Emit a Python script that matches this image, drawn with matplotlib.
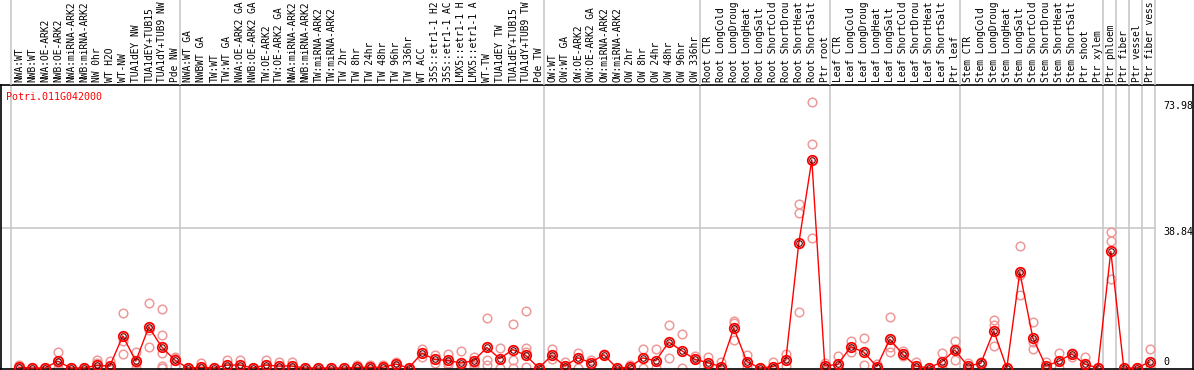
import matplotlib
matplotlib.use("Agg")
import matplotlib.pyplot as plt
import numpy as np

gene_id = "Potri.011G042000"

labels = [
    "NWA:WT", "NWB:WT", "NWA:OE-ARK2", "NWB:OE-ARK2", "NWA:miRNA-ARK2", "NWB:miRNA-ARK2",
    "NW 0hr", "WT H2O", "WT-NW", "TUA1dEY NW", "TUA1dEY+TUB15", "TUA1dY+TUB9 NW", "Pde NW",
    "NWA:WT GA", "NWBWT GA", "TW:WT", "TW:WT GA", "NWA:OE-ARK2 GA", "NWB:OE-ARK2 GA",
    "TW:OE-ARK2", "TW:OE-ARK2 GA", "NWA:miRNA-ARK2", "NWB:miRNA-ARK2", "TW:miRNA-ARK2",
    "TW:miRNA-ARK2", "TW 2hr", "TW 8hr", "TW 24hr", "TW 48hr", "TW 96hr", "TW 336hr",
    "WT ACC", "35S::etr1-1 H2", "35S::etr1-1 AC", "LMX5::etr1-1 H", "LMX5::etr1-1 A",
    "WT-TW", "TUA1dEY TW", "TUA1dEY+TUB15", "TUA1dY+TUB9 TW", "Pde TW",
    "OW:WT", "OW:WT GA", "OW:OE-ARK2", "OW:OE-ARK2 GA", "OW:miRNA-ARK2", "OW:miRNA-ARK2",
    "OW 2hr", "OW 8hr", "OW 24hr", "OW 48hr", "OW 96hr", "OW 336hr",
    "Root CTR", "Root LongCold", "Root LongDroug", "Root LongHeat", "Root LongSalt",
    "Root ShortCold", "Root ShortDrou", "Root ShortHeat", "Root ShortSalt", "Ptr root",
    "Leaf CTR", "Leaf LongCold", "Leaf LongDroug", "Leaf LongHeat", "Leaf LongSalt",
    "Leaf ShortCold", "Leaf ShortDrou", "Leaf ShortHeat", "Leaf ShortSalt", "Ptr leaf",
    "Stem CTR", "Stem LongCold", "Stem LongDroug", "Stem LongHeat", "Stem LongSalt",
    "Stem ShortCold", "Stem ShortDrou", "Stem ShortHeat", "Stem ShortSalt", "Ptr shoot",
    "Ptr xylem", "Ptr phloem", "Ptr fiber", "Ptr vessel", "Ptr fiber vess",
]

# group boundaries: index of first sample of each new group
group_starts = [0, 13, 41, 53, 63, 73, 84, 85, 86, 87, 88]

means = [
    0.2, 0, 0, 1.9, 0, 0, 0.7, 0.55, 8.9, 1.9, 11.4, 5.8, 2.2,
    0, 0.2, 0, 0.8, 0.8, 0, 0.8, 0.55, 0.55, 0, 0, 0, 0, 0.2, 0.2, 0.2, 1.1,
    0, 4.1, 2.4, 2.1, 1.4, 2.0, 5.7, 2.6, 5.1, 3.5, 0,
    3.5, 0.55, 2.8, 1.5, 3.7, 0, 0.2, 2.8, 2.0, 7.2, 4.8, 2.4,
    1.5, 0.4, 11.1, 1.8, 0, 0.4, 2.2, 34.7, 57.8, 0.55,
    1.0, 5.9, 4.4, 0.4, 8.0, 3.8, 0.55, 0, 1.7, 5.0,
    0.55, 1.3, 10.3, 0, 26.6, 8.4, 0.55, 1.9, 3.9, 1.1, 0,
    32.4, 0, 0, 1.7,
]

replicates = [
    [0.8, 0, 0], [0, 0], [0, 0], [4.4, 1.3, 0], [0, 0], [0, 0], [2.1, 1.5, 0],
    [1.9, 0, 0], [15.2, 7.5, 3.9], [4.4, 1.3, 0], [18.1, 10.6, 5.8],
    [16.4, 9.2, 4.1, 0.6, 0], [3.1, 2.9, 0.5],
    [0], [1.3, 0], [0], [2.2, 0], [2.2, 0], [0], [2.1, 0], [1.8, 0], [1.7, 0],
    [0], [0], [0], [0], [0.7, 0], [0.9, 0], [0.7, 0], [1.8, 0.6],
    [0], [5.3, 3.0], [3.7, 1.3], [3.9, 1.3, 0.8], [4.6, 0], [3.1, 1.3, 0.6],
    [13.8, 2.2, 0.8], [5.5, 0], [12.1, 2.2, 0], [15.7, 5.5, 4.5, 0.4], [0],
    [5.2, 2.4], [1.8, 0], [4.1, 0], [2.2, 0.9], [3.9], [0], [0.8, 0], [5.2, 0],
    [5.2, 0], [12.0, 2.7], [9.4, 0], [3.3, 2.4],
    [3.1, 0.2], [1.8, 0], [13.0, 12.6, 7.8], [3.5, 0.2], [0], [1.8, 0], [3.9, 0.6],
    [45.5, 43.0, 15.6], [73.98, 62.1, 36.0], [1.5, 0],
    [3.3, 0], [7.5, 4.4], [8.3, 0.8], [1.1, 0], [14.2, 5.7, 4.5], [4.7, 3.2],
    [1.8, 0], [0], [4.1, 0], [7.5, 5.4, 2.2],
    [1.3, 0], [1.8, 0.9], [13.3, 11.9, 6.1], [0], [33.9, 25.8, 20.3],
    [12.7, 7.3, 5.4], [1.8, 0], [4.2, 0], [4.1, 3.0], [3.1, 0], [0],
    [37.7, 35.2, 24.7], [0], [0], [5.3, 0],
]

ytick_values = [0, 38.84, 73.98]
grid_values = [38.84]

# ---------------------------------------------------------------- layout
W, H = 1194, 370
fig = plt.figure(figsize=(W / 100, H / 100), dpi=100)
RED = "#ff0000"
PINK = "#ee9999"
GRAY = "#c8c8c8"
MONO = "DejaVu Sans Mono"

x0_px, dx_px = 17.5, 13.0
left_px, right_px = 1, 1193
top_px, bot_px = 85, 369
zero_px, scale = 368.0, 3.6

xlim = ((left_px - x0_px) / dx_px, (right_px - x0_px) / dx_px)
ylim = ((zero_px - bot_px) / scale, (zero_px - top_px) / scale)

ax = fig.add_axes([left_px / W, (H - bot_px) / H, (right_px - left_px) / W, (bot_px - top_px) / H])
axl = fig.add_axes([left_px / W, (H - top_px) / H, (right_px - left_px) / W, top_px / H])

n = len(labels)
idx = np.arange(n)
bounds = [g - 0.5 for g in group_starts]
last_bound = bounds[-1]

for a in (ax, axl):
    a.set_xlim(*xlim)
    a.set_xticks([])
    a.set_yticks([])
    a.patch.set_alpha(0)
    for b in bounds:
        a.axvline(b, color=GRAY, lw=1.2, zorder=0)

ax.set_ylim(*ylim)
axl.set_ylim(0, 1)
for s in axl.spines.values():
    s.set_visible(False)
for s in ax.spines.values():
    s.set_color("black")
    s.set_linewidth(1.2)

for g in grid_values:
    ax.plot([xlim[0], last_bound], [g, g], color=GRAY, lw=1.2, zorder=0)

# sample labels
for i, lab in enumerate(labels):
    axl.text(i + 0.15, 0.035, lab, rotation=90, ha="center", va="bottom",
             family=MONO, fontsize=6.9, color="black", clip_on=False)

# replicates
off = 0.1
for i, reps in enumerate(replicates):
    ax.plot([i + off] * len(reps), reps, linestyle="none", marker="o", ms=6.2,
            mfc="none", mec=PINK, mew=1.1, zorder=2, clip_on=True)

# means
ax.plot(idx + off, means, color=RED, lw=1.0, zorder=3)
ax.plot(idx + off, means, linestyle="none", marker="o", ms=6.8, mfc="none",
        mec=RED, mew=1.3, zorder=4)
ax.plot(idx + off, means, linestyle="none", marker="o", ms=4.0, mfc="none",
        mec="#600000", mew=0.8, zorder=5)

# y value labels on the right
xt = (1163 - x0_px) / dx_px
for v in ytick_values:
    yy = v - 4.0 / scale if v > 0 else v + 6.0 / scale
    ax.text(xt, yy, f"{v:g}" if v == 0 else f"{v:.2f}", ha="left", va="center",
            family=MONO, fontsize=7.2, color="black")

ax.text(5 / (right_px - left_px), 1 - 12 / (bot_px - top_px), gene_id,
        transform=ax.transAxes, ha="left", va="center", family=MONO,
        fontsize=7.2, color=RED)

fig.savefig("out.png", dpi=100)
